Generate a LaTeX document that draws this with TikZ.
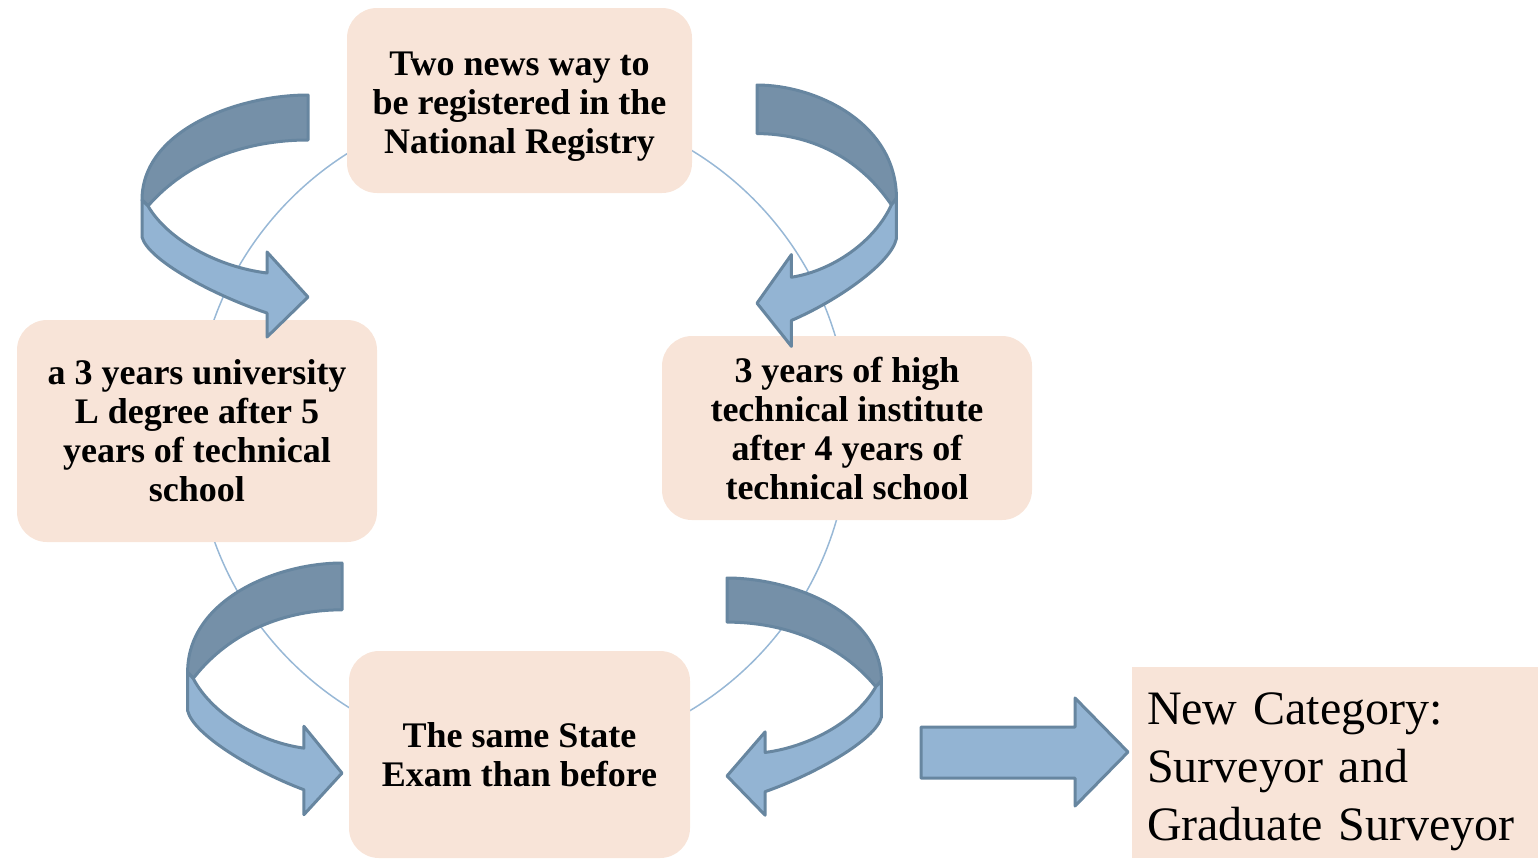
\documentclass[tikz,border=0pt]{standalone}
\usepackage{fontspec}
\setmainfont{Liberation Serif}

\definecolor{boxpeach}{HTML}{F8E4D8}
\definecolor{arrowdark}{HTML}{7590A8}
\definecolor{arrowlight}{HTML}{93B4D3}
\definecolor{arrowedge}{HTML}{6786A0}
\definecolor{ringblue}{HTML}{98B8D6}

\tikzset{
  waybox/.style={rectangle, rounded corners=15pt, fill=boxpeach, align=center, inner sep=0pt,
                 font=\fontsize{18}{19.5}\selectfont\bfseries},
  arrowback/.style={fill=arrowdark, draw=arrowedge, line width=1.5pt, line join=round},
  arrowfront/.style={fill=arrowlight, draw=arrowedge, line width=1.5pt, line join=round},
}

% curved ribbon arrow: x, y of the tail, xscale, yscale
\def\curlyarrow#1#2#3#4{%
  \begin{scope}[shift={(#1,#2)}, xscale=#3, yscale=#4]
    \draw[arrowback] (0,0) .. controls (-70,0) and (-166,35) .. (-166,105)
      -- (-160,111) .. controls (-120,65) and (-60,45) .. (0,45) -- cycle;
    \draw[arrowfront] (-166,105) -- (-166,142) .. controls (-160,165) and (-95,200) .. (-41,218)
      -- (-41,242) -- (0,202) -- (-41,157) -- (-41,178)
      .. controls (-90,172) and (-140,145) .. (-160,111) -- cycle;
  \end{scope}}

\begin{document}
\begin{tikzpicture}[x=0.5pt, y=-0.5pt]
    \useasboundingbox (0,0) rectangle (1540,858);

    \draw[ringblue, line width=0.75pt] (522,430) circle[radius=163.5pt];

    \node[waybox, minimum width=172.5pt, minimum height=92.5pt] (two_ways) at (519.5,100.5)
      {\\[-2pt]Two news way to\\be registered in the\\National Registry};

    \node[waybox, minimum width=180pt, minimum height=111pt] (univ_degree) at (197,431)
      {a 3 years university\\L degree after 5\\years of technical\\school};

    \node[waybox, minimum width=185pt, minimum height=92pt] (high_institute) at (847,428)
      {3 years of high\\technical institute\\after 4 years of\\technical school};

    \node[waybox, minimum width=170.5pt, minimum height=103.5pt] (state_exam) at (519.5,754.5)
      {The same State\\Exam than before};

    \node[rectangle, fill=boxpeach, align=left, text width=188pt, inner xsep=7.5pt, inner ysep=0pt,
          minimum height=95.5pt, font=\fontsize{24}{29}\selectfont] (new_category) at (1335,762.5)
      {\\[-4pt]New Category:\\Surveyor and\\Graduate Surveyor};

    \curlyarrow{308}{95}{1}{1}
    \curlyarrow{757}{85}{-0.84}{1.08}
    \curlyarrow{342}{563}{0.93}{1.04}
    \curlyarrow{727}{578}{-0.93}{0.98}

    \draw[arrowfront] (921,727) -- (1075,727) -- (1075,698) -- (1128,752)
      -- (1075,806) -- (1075,778) -- (921,778) -- cycle;
\end{tikzpicture}
\end{document}
